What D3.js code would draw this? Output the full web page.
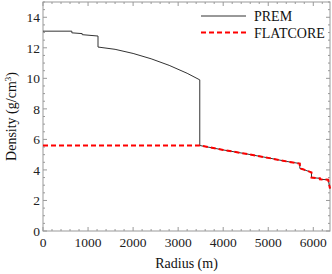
<!DOCTYPE html>
<html>
<head>
<meta charset="utf-8">
<script src="https://cdn.jsdelivr.net/npm/d3@7"></script>
<style>
  body { margin: 0; background: #fff; }
</style>
</head>
<body>
<script>
// PREM density profile, radius / density pairs
let premRadius  = [0, 640, 640, 870, 870, 1221, 1221, 1600, 2000, 2400, 2800, 3200, 3480, 3480, 4000, 4500, 5000, 5400, 5701, 5701, 5771, 5960, 5960, 6150, 6150, 6330, 6371]
let premDensity = [13.09, 13.09, 12.98, 12.93, 12.86, 12.77, 12.05, 11.9, 11.63, 11.28, 10.85, 10.33, 9.9, 5.6, 5.31, 5.06, 4.79, 4.56, 4.42, 4.1, 4.04, 3.84, 3.5, 3.45, 3.38, 3.36, 2.78]

// FLATCORE: constant core, then follows PREM mantle
let flatRadius  = [0, 3480, 4000, 4500, 5000, 5400, 5701, 5701, 5771, 5960, 5960, 6150, 6150, 6330, 6371]
let flatDensity = [5.6, 5.6, 5.31, 5.06, 4.79, 4.56, 4.42, 4.1, 4.04, 3.84, 3.5, 3.45, 3.38, 3.36, 2.78]

let seriesNames = ['PREM', 'FLATCORE']
let xTicks = [0, 1000, 2000, 3000, 4000, 5000, 6000]
let yTicks = [0, 2, 4, 6, 8, 10, 12, 14]

let width = 332
let height = 274
let margin = { left: 43, right: 2, top: 2, bottom: 43 }

let svg = d3.select('body')
  .append('svg')
  .attr('width', width)
  .attr('height', height)
  .attr('font-family', '"Liberation Serif", "Times New Roman", "DejaVu Serif", serif')

let x = d3.scaleLinear()
  .domain([0, 6371])
  .range([margin.left, width - margin.right])

let y = d3.scaleLinear()
  .domain([0, 15])
  .range([height - margin.bottom, margin.top])

let axisColor = '#999'

// frame with inward ticks
function frame(g) {
  g.append('rect')
    .attr('x', x(0)).attr('y', y(15))
    .attr('width', x(6371) - x(0)).attr('height', y(0) - y(15))
    .attr('fill', 'none').attr('stroke', axisColor).attr('stroke-width', 1)
  let xMinor = d3.range(0, 6371, 200)
  let yMinor = d3.range(0, 15.01, 0.5)
  xMinor.forEach(v => {
    let len = v % 1000 === 0 ? 4 : 2
    g.append('line').attr('x1', x(v)).attr('x2', x(v)).attr('y1', y(0)).attr('y2', y(0) - len)
    g.append('line').attr('x1', x(v)).attr('x2', x(v)).attr('y1', y(15)).attr('y2', y(15) + len)
  })
  yMinor.forEach(v => {
    let len = v % 2 === 0 ? 4 : 2
    g.append('line').attr('y1', y(v)).attr('y2', y(v)).attr('x1', x(0)).attr('x2', x(0) + len)
    g.append('line').attr('y1', y(v)).attr('y2', y(v)).attr('x1', x(6371)).attr('x2', x(6371) - len)
  })
  g.selectAll('line').attr('stroke', axisColor).attr('stroke-width', 1)
}
svg.append('g').call(frame)

svg.append('g')
  .selectAll('text')
  .data(xTicks)
  .join('text')
    .attr('x', d => x(d))
    .attr('y', y(0) + 16)
    .attr('text-anchor', 'middle')
    .attr('font-size', 13.5)
    .attr('fill', '#222')
    .text(d => d)

svg.append('g')
  .selectAll('text')
  .data(yTicks)
  .join('text')
    .attr('x', x(0) - 3)
    .attr('y', d => y(d) + 5)
    .attr('text-anchor', 'end')
    .attr('font-size', 13.5)
    .attr('fill', '#222')
    .text(d => d)

let line = d3.line()
  .x(d => x(d[0]))
  .y(d => y(d[1]))

svg.append('path')
  .datum(d3.zip(premRadius, premDensity))
  .attr('d', line)
  .attr('fill', 'none')
  .attr('stroke', '#333')
  .attr('stroke-width', 1)

svg.append('path')
  .datum(d3.zip(flatRadius, flatDensity))
  .attr('d', line)
  .attr('fill', 'none')
  .attr('stroke', '#f00')
  .attr('stroke-width', 2)
  .attr('stroke-dasharray', '5,3')

// legend
let legend = svg.append('g')
seriesNames.forEach((name, i) => {
  let ly = 16 + i * 16.5
  legend.append('line')
    .attr('x1', 201).attr('x2', 246)
    .attr('y1', ly).attr('y2', ly)
    .attr('stroke', i === 0 ? '#333' : '#f00')
    .attr('stroke-width', i === 0 ? 1 : 2)
    .attr('stroke-dasharray', i === 0 ? null : '5,3')
  legend.append('text')
    .attr('x', 254).attr('y', ly + 5)
    .attr('font-size', 14)
    .attr('fill', '#111')
    .text(name)
})

svg.append('text')
  .attr('x', (x(0) + x(6371)) / 2)
  .attr('y', 268)
  .attr('text-anchor', 'middle')
  .attr('font-size', 14)
  .attr('fill', '#111')
  .text('Radius (m)')

let ylab = svg.append('text')
  .attr('transform', `translate(16, ${(y(0) + y(15)) / 2}) rotate(-90)`)
  .attr('text-anchor', 'middle')
  .attr('font-size', 14)
  .attr('fill', '#111')
ylab.append('tspan').text('Density (g/cm')
ylab.append('tspan').attr('font-size', 9).attr('dy', -5).text('3')
ylab.append('tspan').attr('dy', 5).text(')')
</script>
</body>
</html>
